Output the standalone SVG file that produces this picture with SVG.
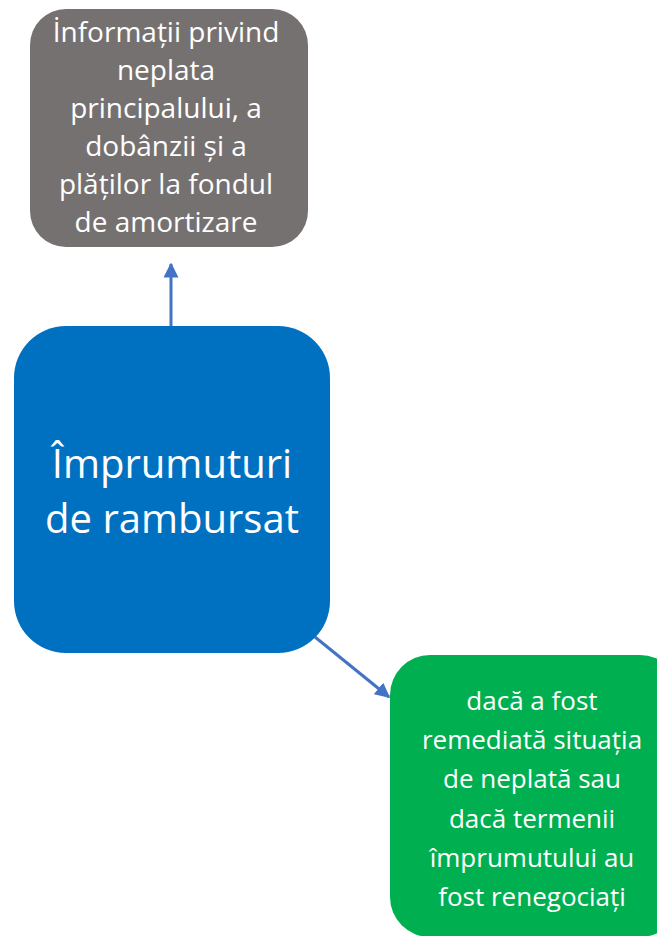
<svg xmlns="http://www.w3.org/2000/svg" width="657" height="936" viewBox="0 0 657 936">
<style>
.t{font-family:"Open Sans","Liberation Sans",sans-serif;fill:#fff;text-anchor:middle}
.s1{font-size:28px}
.s2{font-size:26px}
.b{font-size:40px}
.c{stroke:#4472C4;stroke-width:3;fill:none}
</style>
<defs>
<marker id="ah" viewBox="0 0 10 10" refX="9" refY="5" markerWidth="5" markerHeight="5" markerUnits="strokeWidth" orient="auto">
<path d="M0,0 L10,5 L0,10 z" fill="#4472C4"/>
</marker>
</defs>
<rect width="657" height="936" fill="#fff"/>
<g id="connectors">
<line class="c" x1="171" y1="326" x2="171" y2="264" marker-end="url(#ah)"/>
<line class="c" x1="315" y1="637" x2="389" y2="697" marker-end="url(#ah)"/>
</g>
<g id="n_info">
<rect x="30" y="9" width="278" height="238" rx="36" fill="#767171"/>
<text class="t s1"><tspan x="166" y="42">İnformații privind</tspan><tspan x="166" y="80">neplata</tspan><tspan x="166" y="118">principalului, a</tspan><tspan x="166" y="156">dobânzii și a</tspan><tspan x="166" y="194">plăților la fondul</tspan><tspan x="166" y="232">de amortizare</tspan></text>
</g>
<g id="n_main">
<rect x="14" y="326" width="316" height="327" rx="52" fill="#0070C0"/>
<text class="t b"><tspan x="172" y="478">Împrumuturi</tspan><tspan x="172" y="533">de rambursat</tspan></text>
</g>
<g id="n_rem">
<rect x="390" y="655" width="290" height="282" rx="40" fill="#00B050"/>
<text class="t s2"><tspan x="532" y="710">dacă a fost</tspan><tspan x="532" y="749">remediată situația</tspan><tspan x="532" y="788">de neplată sau</tspan><tspan x="532" y="828">dacă termenii</tspan><tspan x="532" y="867">împrumutului au</tspan><tspan x="532" y="906">fost renegociați</tspan></text>
</g>
</svg>
